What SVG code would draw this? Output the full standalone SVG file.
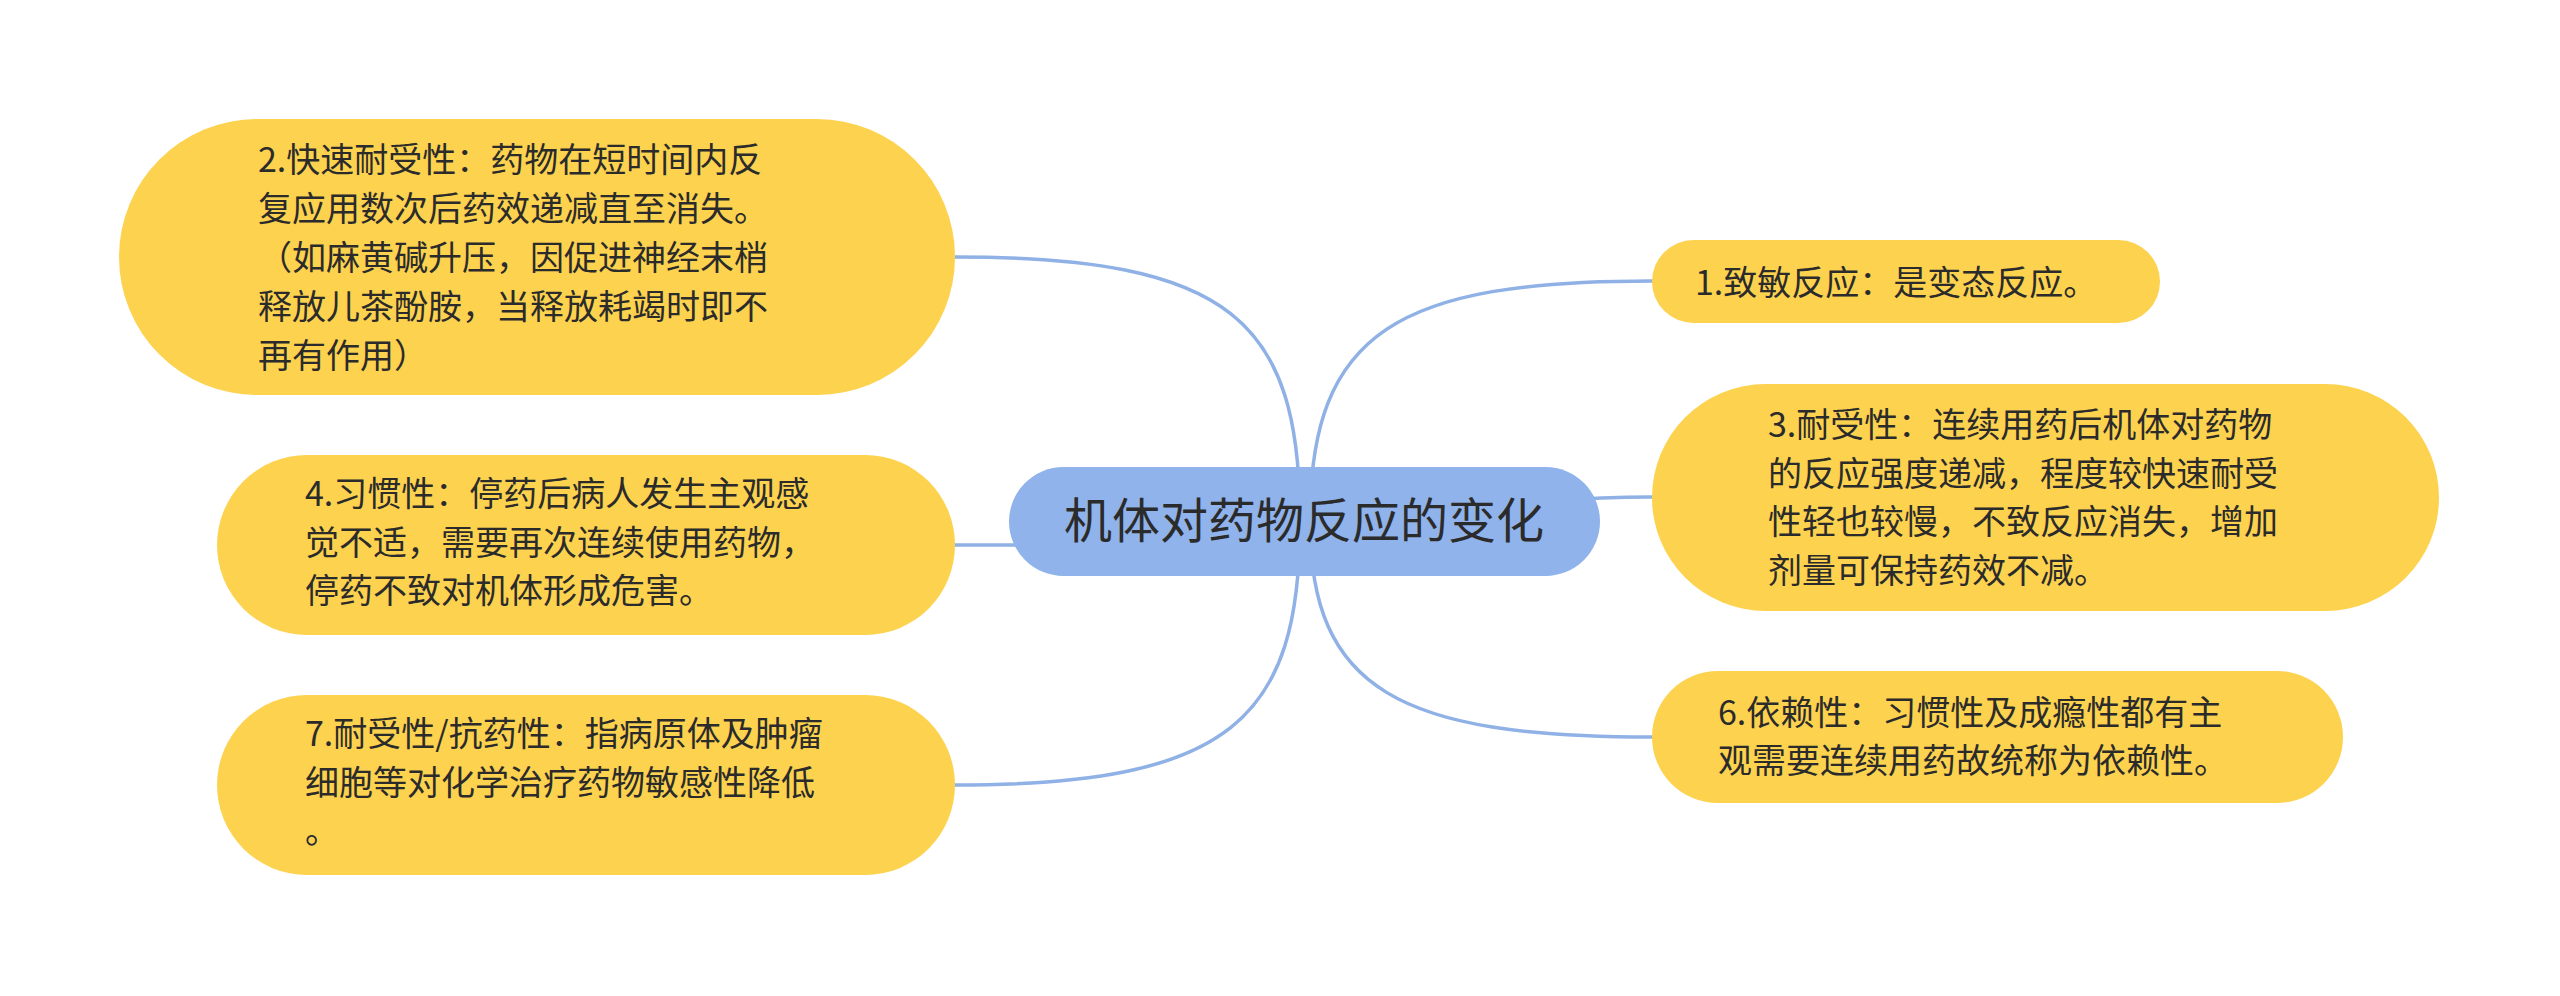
<svg xmlns="http://www.w3.org/2000/svg" width="2560" height="996" viewBox="0 0 2560 996">
<style>
.edge{fill:none;stroke:#8fb1e6;stroke-width:3.5;stroke-linecap:round}
.sub{fill:#fcd24f}
.root{fill:#8fb3ea}
.t{font-family:"Noto Sans CJK SC","Noto Sans",sans-serif;font-size:34px;fill:#2b2b2b}
.rt{font-family:"Noto Sans CJK SC","Noto Sans",sans-serif;font-size:48px;fill:#2b2b2b}
</style>
<rect width="2560" height="996" fill="#ffffff"/>
<g id="connectors">
<path class="edge" d="M1300 521 C1300 320 1230 257 955 257"/>
<path class="edge" d="M1310 521 C1310 330 1400 281 1652 281"/>
<path class="edge" d="M1304 521 C1450 521 1500 497 1652 497"/>
<path class="edge" d="M1304 545 L955 545"/>
<path class="edge" d="M1300 521 C1300 720 1230 785 955 785"/>
<path class="edge" d="M1310 521 C1310 690 1400 737 1652 737"/>
</g>
<g id="root">
<rect class="root" x="1009" y="467" width="591" height="109" rx="54.5"/>
<text class="rt" x="1304" y="538" text-anchor="middle">机体对药物反应的变化</text>
</g>
<g id="n2">
<rect class="sub" x="119" y="119" width="836" height="276" rx="138"/>
<text class="t" x="258"><tspan x="258" y="172">2.快速耐受性：药物在短时间内反</tspan><tspan x="258" y="221">复应用数次后药效递减直至消失。</tspan><tspan x="258" y="270">（如麻黄碱升压，因促进神经末梢</tspan><tspan x="258" y="319">释放儿茶酚胺，当释放耗竭时即不</tspan><tspan x="258" y="368">再有作用）</tspan></text>
</g>
<g id="n4">
<rect class="sub" x="217" y="455" width="738" height="180" rx="90"/>
<text class="t"><tspan x="305" y="506">4.习惯性：停药后病人发生主观感</tspan><tspan x="305" y="555">觉不适，需要再次连续使用药物，</tspan><tspan x="305" y="603">停药不致对机体形成危害。</tspan></text>
</g>
<g id="n7">
<rect class="sub" x="217" y="695" width="738" height="180" rx="90"/>
<text class="t"><tspan x="305" y="746">7.耐受性/抗药性：指病原体及肿瘤</tspan><tspan x="305" y="795">细胞等对化学治疗药物敏感性降低</tspan><tspan x="305" y="843">。</tspan></text>
</g>
<g id="n1">
<rect class="sub" x="1652" y="240" width="508" height="83" rx="41.5"/>
<text class="t" x="1695" y="295">1.致敏反应：是变态反应。</text>
</g>
<g id="n3">
<rect class="sub" x="1652" y="384" width="787" height="227" rx="113.5"/>
<text class="t"><tspan x="1768" y="437">3.耐受性：连续用药后机体对药物</tspan><tspan x="1768" y="486">的反应强度递减，程度较快速耐受</tspan><tspan x="1768" y="534">性轻也较慢，不致反应消失，增加</tspan><tspan x="1768" y="583">剂量可保持药效不减。</tspan></text>
</g>
<g id="n6">
<rect class="sub" x="1652" y="671" width="691" height="132" rx="66"/>
<text class="t"><tspan x="1718" y="725">6.依赖性：习惯性及成瘾性都有主</tspan><tspan x="1718" y="773">观需要连续用药故统称为依赖性。</tspan></text>
</g>
</svg>
